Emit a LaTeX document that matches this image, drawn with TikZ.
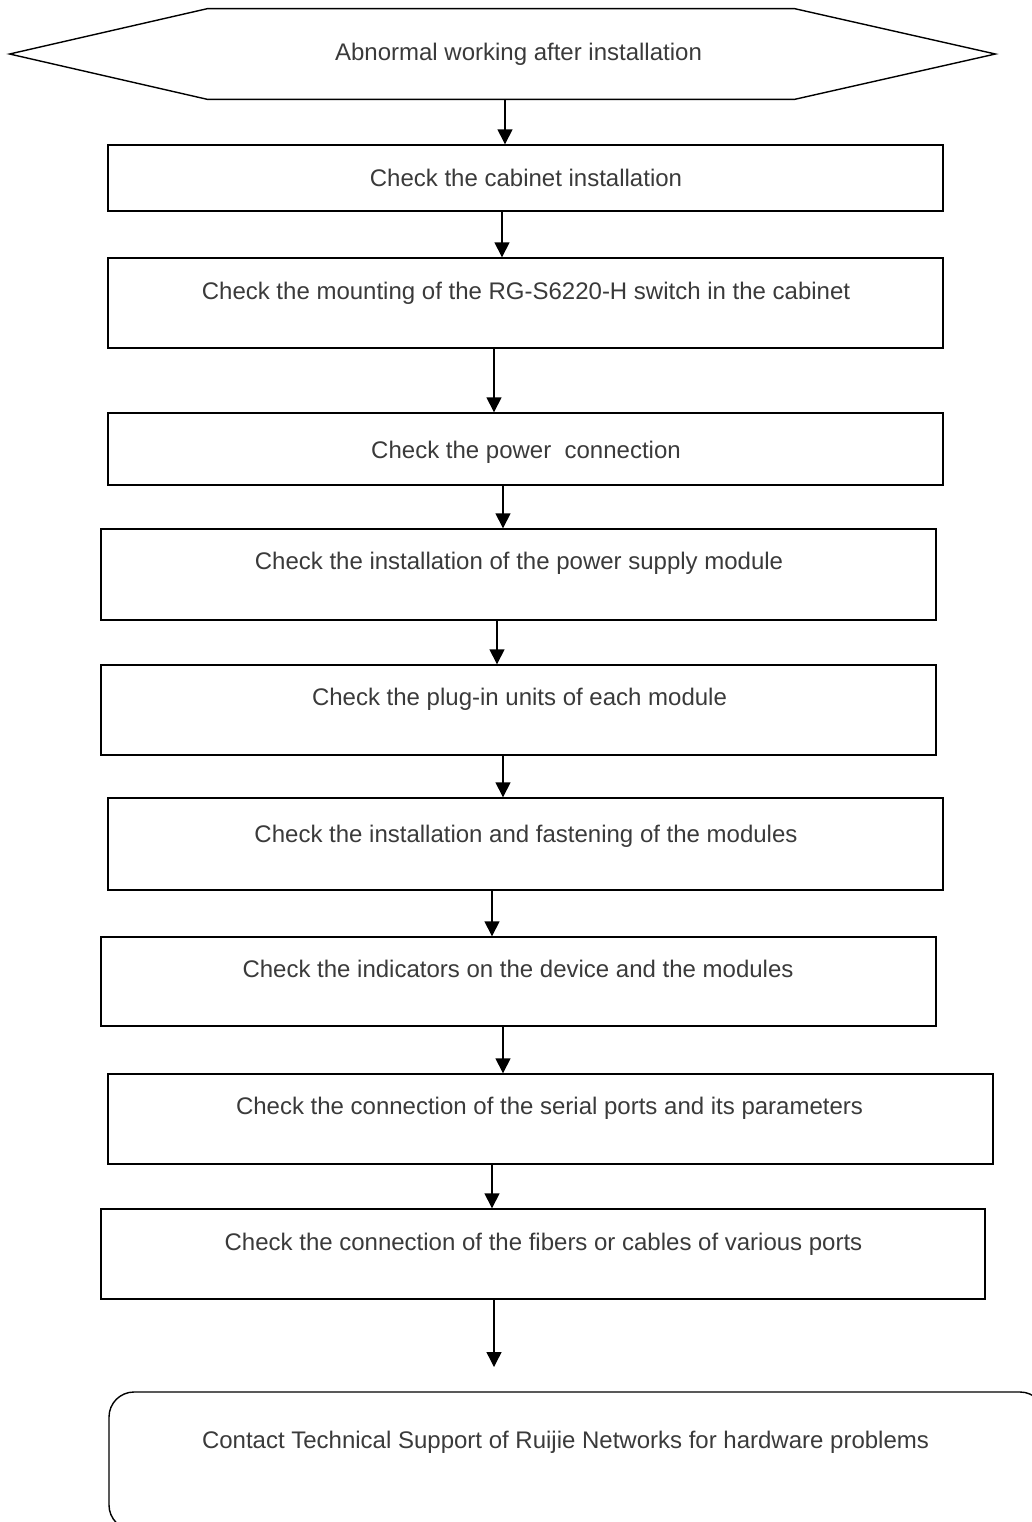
\documentclass[tikz,border=0pt]{standalone}
\usepackage{fontspec}
\setmainfont{Liberation Sans}
\usepackage{tikz}
\usetikzlibrary{arrows.meta}
\definecolor{inkc}{HTML}{3A3A3A}
\tikzset{
  ar/.style={-{Triangle[length=7.5pt,width=7.5pt]},line width=0.7pt},
  box/.style={draw,line width=0.7pt,inner sep=0pt},
  txt/.style={anchor=base,inner sep=0pt,text=inkc,font=\fontsize{12}{14}\selectfont}
}
\begin{document}
\begin{tikzpicture}[x=0.5pt,y=-0.5pt]
\useasboundingbox (0,0) rectangle (1032,1522);
\clip (0,0) rectangle (1032,1522);
\node[inner sep=0pt,minimum width=492.5pt,minimum height=45pt] (start) at (502.5,54) {};
\draw[line width=0.7pt] (start.west) -- ([xshift=99pt]start.north west) -- ([xshift=-100.5pt]start.north east) -- (start.east) -- ([xshift=-100.5pt]start.south east) -- ([xshift=99pt]start.south west) -- cycle;
\node[txt] (t0) at (518.5,60) {Abnormal working after installation};
\node[box,minimum width=417.5pt,minimum height=33pt] (b1) at (525.5,178) {};
\node[txt] (t1) at (526,186) {Check the cabinet installation};
\node[box,minimum width=417.5pt,minimum height=45pt] (b2) at (525.5,303) {};
\node[txt] (t2) at (526,299) {Check the mounting of the RG-S6220-H switch in the cabinet};
\node[box,minimum width=417.5pt,minimum height=36pt] (b3) at (525.5,449) {};
\node[txt] (t3) at (526,458) {Check the power~ connection};
\node[box,minimum width=417.5pt,minimum height=45.5pt] (b4) at (518.5,574.5) {};
\node[txt] (t4) at (519,569) {Check the installation of the power supply module};
\node[box,minimum width=417.5pt,minimum height=45pt] (b5) at (518.5,710) {};
\node[txt] (t5) at (519.5,705) {Check the plug-in units of each module};
\node[box,minimum width=417.5pt,minimum height=46pt] (b6) at (525.5,844) {};
\node[txt] (t6) at (526,842) {Check the installation and fastening of the modules};
\node[box,minimum width=417.5pt,minimum height=44.5pt] (b7) at (518.5,981.5) {};
\node[txt] (t7) at (518,977) {Check the indicators on the device and the modules};
\node[box,minimum width=442.5pt,minimum height=45pt] (b8) at (550.5,1119) {};
\node[txt] (t8) at (549.5,1114) {Check the connection of the serial ports and its parameters};
\node[box,minimum width=442pt,minimum height=45pt] (b9) at (543,1254) {};
\node[txt] (t9) at (543.5,1250) {Check the connection of the fibers or cables of various ports};
\node[box,rounded corners=12.5pt,minimum width=468pt,minimum height=69pt] (last) at (577,1461) {};
\node[txt] (t10) at (565.5,1448) {Contact Technical Support of Ruijie Networks for hardware problems};
\coordinate (endtip) at (494,1367);
\draw[ar] (start.south -| 505,0) -- (b1.north -| 505,0);
\draw[ar] (b1.south -| 502,0) -- (b2.north -| 502,0);
\draw[ar] (b2.south -| 494,0) -- (b3.north -| 494,0);
\draw[ar] (b3.south -| 503,0) -- (b4.north -| 503,0);
\draw[ar] (b4.south -| 497,0) -- (b5.north -| 497,0);
\draw[ar] (b5.south -| 503,0) -- (b6.north -| 503,0);
\draw[ar] (b6.south -| 492,0) -- (b7.north -| 492,0);
\draw[ar] (b7.south -| 503,0) -- (b8.north -| 503,0);
\draw[ar] (b8.south -| 492,0) -- (b9.north -| 492,0);
\draw[ar] (b9.south -| endtip) -- (endtip);
\end{tikzpicture}
\end{document}
